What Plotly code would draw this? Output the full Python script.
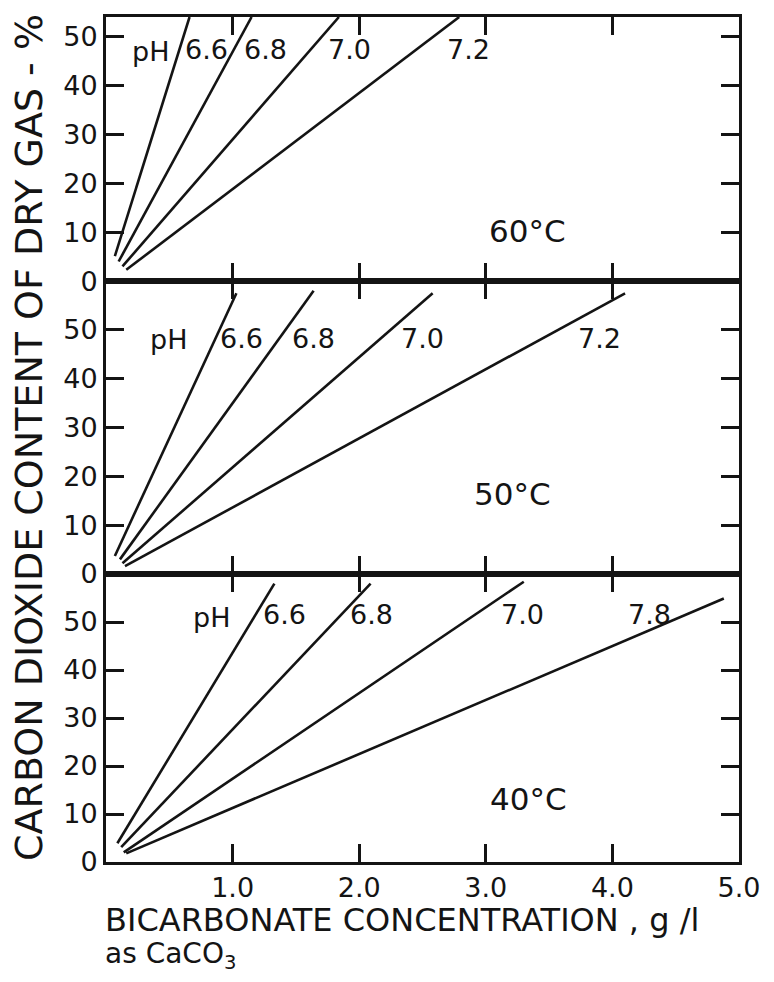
import plotly.graph_objects as go
from plotly.subplots import make_subplots

# ---- data ----
ph_60 = ["6.6", "6.8", "7.0", "7.2"]
x_60 = [[0.07, 0.66], [0.10, 1.15], [0.13, 1.84], [0.16, 2.79]]
y_60 = [[5.1, 54.0], [4.0, 54.0], [3.0, 54.0], [2.3, 54.0]]

ph_50 = ["6.6", "6.8", "7.0", "7.2"]
x_50 = [[0.07, 1.03], [0.11, 1.64], [0.13, 2.58], [0.15, 4.10]]
y_50 = [[3.7, 57.5], [3.0, 58.0], [2.2, 57.5], [1.6, 57.5]]

ph_40 = ["6.6", "6.8", "7.0", "7.8"]
x_40 = [[0.09, 1.33], [0.12, 2.09], [0.14, 3.30], [0.16, 4.88]]
y_40 = [[3.9, 58.0], [3.1, 58.0], [2.0, 58.4], [1.8, 54.9]]

x_tickvals = [1, 2, 3, 4, 5]
x_ticktext = ["1.0", "2.0", "3.0", "4.0", "5.0"]
y_tickvals = [0, 10, 20, 30, 40, 50]
y_ticktext = ["0", "10", "20", "30", "40", "50"]

INK = "#141414"
FONT = "DejaVu Sans"

fig = make_subplots(rows=3, cols=1, shared_xaxes=True, vertical_spacing=0,
                    row_heights=[265, 294, 289])

for row, (xs, ys) in enumerate([(x_60, y_60), (x_50, y_50), (x_40, y_40)], start=1):
    for xv, yv in zip(xs, ys):
        fig.add_trace(go.Scatter(x=xv, y=yv, mode="lines",
                                 line=dict(color=INK, width=2.6),
                                 showlegend=False, hoverinfo="skip"),
                      row=row, col=1)

axis_common = dict(showline=True, linecolor=INK, linewidth=3, mirror="ticks",
                   ticks="inside", ticklen=18, tickwidth=2.6, tickcolor=INK,
                   showgrid=False, zeroline=False,
                   tickfont=dict(family=FONT, size=27, color=INK))

for i, rng in zip([1, 2, 3], [[0, 54], [0, 60], [0, 60]]):
    fig.update_yaxes(range=rng, tickvals=y_tickvals, ticktext=y_ticktext,
                     **axis_common, row=i, col=1)
    fig.update_xaxes(range=[0, 5], tickvals=x_tickvals, ticktext=x_ticktext,
                     showticklabels=(i == 3), **axis_common, row=i, col=1)

lab_font = dict(family=FONT, size=27, color=INK)
temp_font = dict(family=FONT, size=31, color=INK)

def lab(text, x, y, ref, font=lab_font):
    fig.add_annotation(text=text, x=x, y=y, xref="x" + ref, yref="y" + ref,
                       showarrow=False, font=font, xanchor="center", yanchor="middle")

# 60 C panel
lab("pH", 0.35, 47, "")
for t, xp in zip(ph_60, [0.79, 1.256, 1.92, 2.86]):
    lab(t, xp, 47.3, "")
lab("60°C", 3.33, 10.2, "", temp_font)
# 50 C panel
lab("pH", 0.49, 48, "2")
for t, xp in zip(ph_50, [1.07, 1.64, 2.5, 3.9]):
    lab(t, xp, 48.2, "2")
lab("50°C", 3.21, 16.3, "2", temp_font)
# 40 C panel
lab("pH", 0.83, 51, "3")
for t, xp in zip(ph_40, [1.41, 2.1, 3.29, 4.29]):
    lab(t, xp, 51.5, "3")
lab("40°C", 3.34, 13.2, "3", temp_font)

# axis titles
fig.add_annotation(text="CARBON DIOXIDE CONTENT OF DRY GAS - %", textangle=-90,
                   xref="paper", yref="paper", x=(28 - 106) / 637, y=(862 - 436) / 848,
                   xanchor="center", yanchor="middle", showarrow=False,
                   font=dict(family=FONT, size=38, color=INK))
fig.add_annotation(text="BICARBONATE CONCENTRATION , g /l", xref="paper", yref="paper",
                   x=(103 - 106) / 637, y=-(920 - 862) / 848, xanchor="left", yanchor="middle",
                   showarrow=False, font=dict(family=FONT, size=32, color=INK))
fig.add_annotation(text="as CaCO<sub>3</sub>", xref="paper", yref="paper",
                   x=(103 - 106) / 637, y=-(956 - 862) / 848, xanchor="left", yanchor="middle",
                   showarrow=False, font=dict(family=FONT, size=28, color=INK))

# page body has an 8px margin, so the figure is 16px smaller and shifted accordingly
fig.update_layout(width=758, height=966,
                  margin=dict(l=98, r=23, t=6, b=112),
                  paper_bgcolor="white", plot_bgcolor="white",
                  showlegend=False)

fig.write_html("out.html")
